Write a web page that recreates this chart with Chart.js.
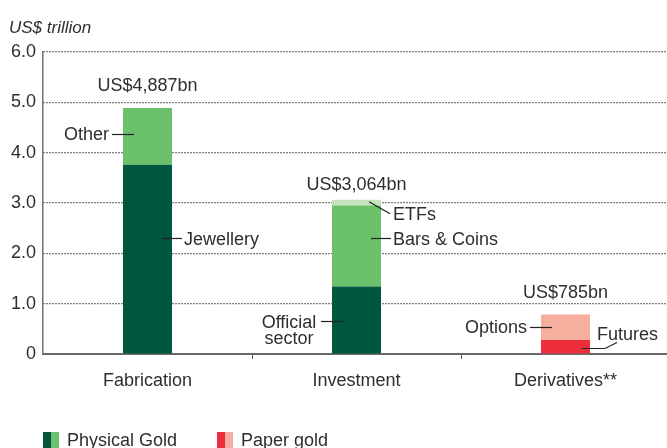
<!DOCTYPE html>
<html>
<head>
<meta charset="utf-8">
<script src="https://cdn.jsdelivr.net/npm/chart.js@4.4.1/dist/chart.umd.min.js"></script>
<style>
  html, body { margin: 0; padding: 0; background: #fff; overflow: hidden; }
  #wrap { width: 670px; height: 448px; }
</style>
</head>
<body>
<div id="wrap"><canvas id="chart"></canvas></div>
<script>
// Data (US$ trillion)
const categories = ['Fabrication', 'Investment', 'Derivatives**'];
const yTickLabels = ['0', '1.0', '2.0', '3.0', '4.0', '5.0', '6.0'];
// bottom segments: Jewellery, Official sector, Futures
const baseValues = [3.76, 1.34, 0.28];
// middle segments: Other, Bars & Coins, Options
const middleValues = [1.127, 1.61, 0.505];
// top segment: ETFs
const topValues = [null, 0.114, null];
const totals = [4.887, 3.064, 0.785];
const totalLabels = ['US$4,887bn', 'US$3,064bn', 'US$785bn'];
const legendLabels = ['Physical Gold', 'Paper gold'];

const DARK_GREEN = '#01573d';
const LIGHT_GREEN = '#6bc16b';
const PALE_GREEN = '#c5e4bd';
const RED = '#ee2d3d';
const PINK = '#f6ae9e';
const TEXT = '#2e2e2e';
const FONT = '"Liberation Sans", Arial, sans-serif';

// segment annotations: dataset index, category index, value where the leader sits
const segmentNotes = [
  { text: ['Other'], ds: 1, i: 0, at: 4.37, side: 'left' },
  { text: ['Jewellery'], ds: 0, i: 0, at: 2.3, side: 'right' },
  { text: ['Bars & Coins'], ds: 1, i: 1, at: 2.3, side: 'right' },
  { text: ['Official', 'sector'], ds: 0, i: 1, at: 0.65, side: 'left' },
  { text: ['Options'], ds: 1, i: 2, at: 0.545, side: 'left' }
];

const annotations = {
  id: 'annotations',
  afterDraw(chart) {
    const ctx = chart.ctx;
    const y = chart.scales.y;
    const el = (ds, i) => chart.getDatasetMeta(ds).data[i];
    ctx.save();
    ctx.font = '18px ' + FONT;
    ctx.fillStyle = TEXT;
    ctx.strokeStyle = '#222';
    ctx.lineWidth = 1.2;
    ctx.textBaseline = 'alphabetic';

    const line = (pts) => {
      ctx.beginPath();
      ctx.moveTo(pts[0][0], pts[0][1]);
      for (let k = 1; k < pts.length; k++) ctx.lineTo(pts[k][0], pts[k][1]);
      ctx.stroke();
    };

    // totals above bars
    const totalGap = [17, 10, 16];
    ctx.textAlign = 'center';
    totals.forEach((t, i) => {
      const b = el(0, i);
      ctx.fillText(totalLabels[i], b.x, y.getPixelForValue(t) - totalGap[i]);
    });

    segmentNotes.forEach(n => {
      const b = el(n.ds, n.i);
      const left = b.x - b.width / 2, right = b.x + b.width / 2;
      const py = Math.round(y.getPixelForValue(n.at)) + 0.5;
      if (n.side === 'left') {
        line([[left - 11, py], [left + 11, py]]);
        if (n.text.length === 1) {
          ctx.textAlign = 'right';
          ctx.fillText(n.text[0], left - 14, py + 5);
        } else {
          ctx.textAlign = 'center';
          ctx.fillText(n.text[0], left - 43, py + 6);
          ctx.fillText(n.text[1], left - 43, py + 22);
        }
      } else {
        line([[right - 10, py], [right + 10, py]]);
        ctx.textAlign = 'left';
        ctx.fillText(n.text[0], right + 12, py + 6);
      }
    });

    // ETFs leader
    const inv = el(2, 1);
    const invRight = inv.x + inv.width / 2;
    const etfTop = y.getPixelForValue(totals[1]);
    line([[invRight - 12, etfTop + 2], [invRight + 9, etfTop + 14]]);
    ctx.textAlign = 'left';
    ctx.fillText('ETFs', invRight + 12, etfTop + 20);

    // Futures leader
    const fut = el(0, 2);
    const futRight = fut.x + fut.width / 2;
    const fy = Math.round(y.getPixelForValue(0.12)) + 0.5;
    line([[futRight - 8, fy], [futRight + 15, fy], [futRight + 27, fy - 6]]);
    ctx.fillText('Futures', futRight + 7, fy - 9);

    // y axis unit
    ctx.font = 'italic 17px ' + FONT;
    ctx.textAlign = 'left';
    ctx.fillText('US$ trillion', 9, 33);

    // legend
    ctx.font = '18px ' + FONT;
    const legendColors = [[DARK_GREEN, LIGHT_GREEN], [RED, PINK]];
    const legendX = [43, 217];
    legendLabels.forEach((label, k) => {
      const x0 = legendX[k];
      ctx.fillStyle = legendColors[k][0];
      ctx.fillRect(x0, 432, 8, 18);
      ctx.fillStyle = legendColors[k][1];
      ctx.fillRect(x0 + 8, 432, 8, 18);
      ctx.fillStyle = TEXT;
      ctx.fillText(label, x0 + 24, 446);
    });
    ctx.restore();
  }
};

new Chart(document.getElementById('chart'), {
  type: 'bar',
  data: {
    labels: categories,
    datasets: [
      { label: 'base', data: baseValues, backgroundColor: [DARK_GREEN, DARK_GREEN, RED] },
      { label: 'middle', data: middleValues, backgroundColor: [LIGHT_GREEN, LIGHT_GREEN, PINK] },
      { label: 'top', data: topValues, backgroundColor: PALE_GREEN }
    ]
  },
  options: {
    responsive: true,
    maintainAspectRatio: false,
    animation: false,
    events: [],
    layout: { padding: { top: 52, right: 0, bottom: 0, left: 0 } },
    datasets: { bar: { barPercentage: 1, categoryPercentage: 0.2345, borderWidth: 0 } },
    plugins: { legend: { display: false }, tooltip: { enabled: false } },
    scales: {
      x: {
        stacked: true,
        afterFit: s => { s.height = 94; },
        border: { color: '#6a6a6a', width: 2 },
        grid: {
          drawOnChartArea: false,
          drawTicks: true,
          tickLength: 5,
          color: c => c.index === 0 ? 'rgba(0,0,0,0)' : '#555'
        },
        ticks: { color: TEXT, font: { family: FONT, size: 18 }, padding: 11 }
      },
      y: {
        stacked: true,
        min: 0,
        max: 6,
        afterFit: s => { s.width = 43; },
        border: { color: '#707070', width: 1.5, dash: [1, 2] },
        grid: { drawTicks: false, color: '#000', lineWidth: 1.2 },
        ticks: {
          stepSize: 1,
          padding: 7,
          color: TEXT,
          font: { family: FONT, size: 18 },
          callback: (v, i) => yTickLabels[i]
        }
      }
    }
  },
  plugins: [annotations]
});
</script>
</body>
</html>
